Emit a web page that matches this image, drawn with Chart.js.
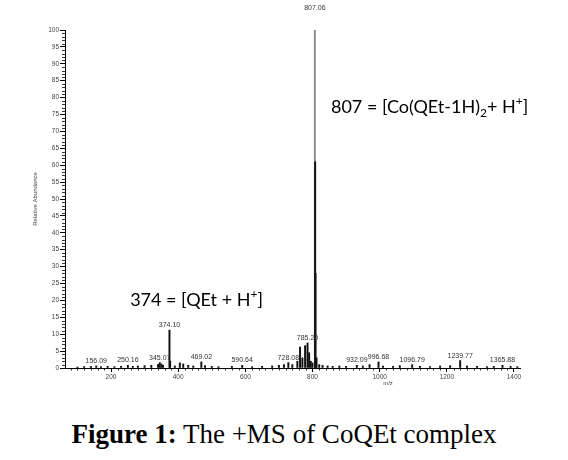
<!DOCTYPE html>
<html>
<head>
<title>+MS of CoQEt complex</title>
<script src="https://cdn.jsdelivr.net/npm/chart.js"></script>
<style>
  body { margin: 0; background: #fff; }
  #wrap { position: relative; width: 568px; height: 395px; }
  #caption { position: absolute; left: 0; top: 419px; width: 568px; text-align: center;
             font-family: "Liberation Serif", serif; font-size: 27px; color: #000; }
</style>
</head>
<body>
<div id="wrap"><canvas id="msChart"></canvas></div>
<div id="caption"><b>Figure 1:</b> The +MS of CoQEt complex</div>

<script>
    // m/z of each stick and its relative abundance (%)
    const peakMz = [100, 120, 140, 156.09, 170, 190, 210, 230, 250.16, 265, 280, 300, 320,
        340, 345.07, 350, 355, 374.10, 376, 390, 405, 415, 430, 445, 469.02, 480, 500, 520,
        560, 590.64, 620, 650, 680, 700, 715, 728.08, 740, 755, 763, 770, 778, 785.20, 790,
        795, 800, 807.06, 808, 809, 812, 820, 830, 845, 860, 880, 900, 932.09, 950, 970,
        996.68, 1010, 1040, 1060, 1096.79, 1120, 1150, 1180, 1210, 1239.77, 1260, 1290,
        1320, 1340, 1365.88, 1390, 1410];
    const peakIntensity = [0.3, 0.4, 0.5, 0.6, 0.4, 0.5, 0.4, 0.5, 0.8, 0.5, 0.6, 0.7, 0.8,
        1.0, 1.6, 1.2, 0.8, 11.2, 2.0, 0.6, 1.5, 1.2, 0.8, 0.6, 1.8, 0.7, 0.5, 0.4,
        0.5, 0.8, 0.4, 0.5, 0.6, 0.8, 1.0, 1.6, 1.0, 2.0, 6.2, 3.0, 6.6, 7.4, 4.5,
        2.0, 1.5, 100, 61, 28, 3.0, 1.0, 0.8, 0.6, 0.5, 0.6, 0.5, 0.8, 0.6, 1.0,
        1.8, 0.6, 0.5, 0.7, 1.0, 0.5, 0.4, 0.6, 0.7, 2.2, 0.6, 0.5,
        0.4, 0.5, 0.8, 0.5, 0.4];
    const labelledPeaks = ['156.09', '250.16', '345.07', '374.10', '469.02', '590.64', '728.08',
        '785.20', '807.06', '932.09', '996.68', '1096.79', '1239.77', '1365.88'];
    const xTicks = [200, 400, 600, 800, 1000, 1200, 1400];
    const yTicks = [0, 5, 10, 15, 20, 25, 30, 35, 40, 45, 50, 55, 60, 65, 70, 75, 80, 85, 90, 95, 100];

    const points = peakMz.map((m, i) => ({ x: m, y: peakIntensity[i] }));
    const barColors = peakMz.map(m => m === 807.06 ? '#8c8c8c' : '#111');

    const tickFont = { family: 'Liberation Sans', size: 6.5 };

    // minor ticks, peak labels, assignments and axis titles
    const decorations = {
        id: 'decorations',
        afterDraw(chart) {
            const c = chart.ctx, xs = chart.scales.x, ys = chart.scales.y;
            const area = chart.chartArea;
            c.save();
            c.strokeStyle = '#000';
            c.lineWidth = 0.8;
            c.beginPath();
            for (let v = 0; v <= 100; v++) {
                if (v % 5 === 0) continue;
                const py = Math.round(ys.getPixelForValue(v)) + 0.5;
                c.moveTo(area.left - 3, py); c.lineTo(area.left, py);
            }
            for (let v = 80; v <= xs.max; v += 20) {
                if (v % 200 === 0) continue;
                const px = Math.round(xs.getPixelForValue(v)) + 0.5;
                c.moveTo(px, area.bottom); c.lineTo(px, area.bottom + 2.5);
            }
            c.stroke();

            // peak labels
            c.font = '7px "Liberation Sans"';
            c.fillStyle = '#333';
            c.textAlign = 'center';
            c.textBaseline = 'alphabetic';
            labelledPeaks.forEach(lbl => {
                const m = parseFloat(lbl);
                const h = peakIntensity[peakMz.indexOf(m)];
                const px = xs.getPixelForValue(m);
                let py = ys.getPixelForValue(h) - 3;
                if (h >= 100) py = area.top - 20;
                c.fillText(lbl, px, py);
            });

            // axis titles
            c.font = '6px "Liberation Sans"';
            c.fillStyle = '#444';
            c.fillText('m/z', xs.getPixelForValue(1025), area.bottom + 17);
            c.save();
            c.translate(37, (area.top + area.bottom) / 2);
            c.rotate(-Math.PI / 2);
            c.fillText('Relative Abundance', 0, 0);
            c.restore();

            // assignments
            c.fillStyle = '#000';
            c.textAlign = 'left';
            const big = '18px Lato', small = '12px Lato';
            const runs = (parts, x, y) => {
                parts.forEach(([t, f, dy]) => {
                    c.font = f;
                    c.fillText(t, x, y + dy);
                    x += c.measureText(t).width;
                });
            };
            runs([['807 = [Co(QEt-1H)', big, 0], ['2', small, 4], ['+ H', big, 0], ['+', small, -8], [']', big, 0]],
                xs.getPixelForValue(855), ys.getPixelForValue(75.5));
            runs([['374 = [QEt + H', big, 0], ['+', small, -8], [']', big, 0]],
                xs.getPixelForValue(257), ys.getPixelForValue(18.3));
            c.restore();
        }
    };

    new Chart(document.getElementById('msChart'), {
        type: 'bar',
        data: {
            datasets: [{
                data: points,
                backgroundColor: barColors,
                barThickness: 1.3,
                borderWidth: 0
            }]
        },
        options: {
            responsive: true,
            maintainAspectRatio: false,
            animation: false,
            layout: { padding: { left: 28, right: 48, top: 30, bottom: 5 } },
            plugins: { legend: { display: false }, tooltip: { enabled: false } },
            scales: {
                x: {
                    type: 'linear',
                    offset: false,
                    min: 63, max: 1418,
                    afterFit: s => { s.height = 22; },
                    afterBuildTicks: s => { s.ticks = xTicks.map(v => ({ value: v })); },
                    ticks: { font: tickFont, color: '#444', padding: 1, maxRotation: 0,
                             callback: v => String(v) },
                    grid: { drawOnChartArea: false, tickLength: 4, color: '#000', offset: false },
                    border: { color: '#000', width: 1 }
                },
                y: {
                    min: 0, max: 100,
                    afterFit: s => { s.width = 37; },
                    afterBuildTicks: s => { s.ticks = yTicks.map(v => ({ value: v })); },
                    ticks: { font: tickFont, color: '#444', padding: 1 },
                    grid: { drawOnChartArea: false, tickLength: 5, color: '#000' },
                    border: { color: '#000', width: 1 }
                }
            }
        },
        plugins: [decorations]
    });
</script>
</body>
</html>
